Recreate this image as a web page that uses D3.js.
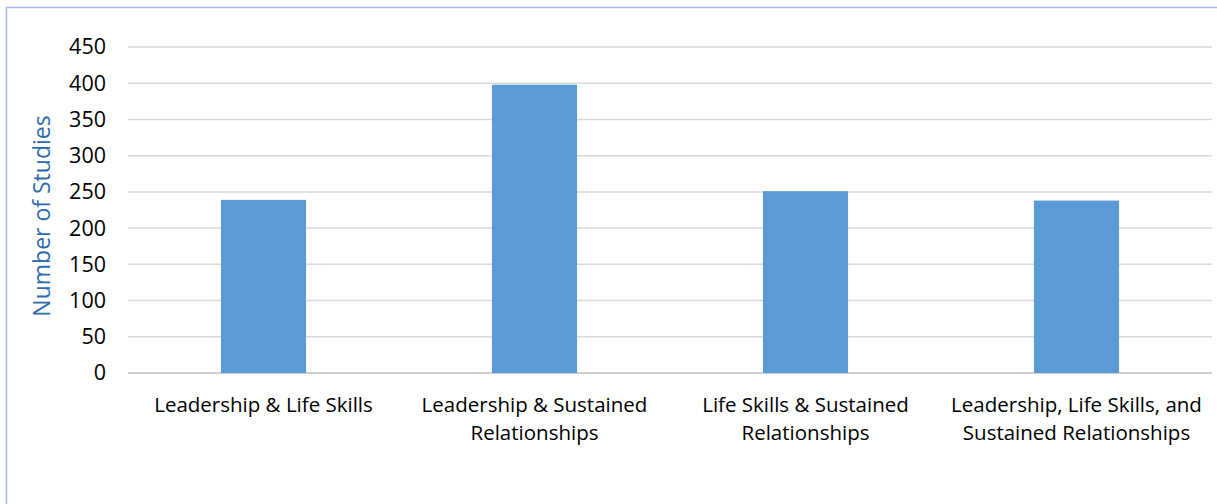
<!DOCTYPE html>
<html>
<head>
<meta charset="utf-8">
<script src="https://cdn.jsdelivr.net/npm/d3@7"></script>
<style>
  body { margin: 0; background: #fff; }
  svg { display: block; font-family: "Open Sans", sans-serif; }
</style>
</head>
<body>
<div id="chart"></div>
<script>
// data
let categories = [
  ["Leadership & Life Skills"],
  ["Leadership & Sustained", "Relationships"],
  ["Life Skills & Sustained", "Relationships"],
  ["Leadership, Life Skills, and", "Sustained Relationships"]
];
let studies = [239, 398, 251, 238];
let yTicks = [0, 50, 100, 150, 200, 250, 300, 350, 400, 450];

let svgWidth = 1217;
let svgHeight = 504;

let margin = { top: 47, right: 5, bottom: 131, left: 128 };
let width = svgWidth - margin.left - margin.right;
let height = svgHeight - margin.top - margin.bottom;

let svg = d3.select("#chart")
  .append("svg")
  .attr("width", svgWidth)
  .attr("height", svgHeight);

// outer frame of the chart object
svg.append("rect")
  .attr("x", 6.5)
  .attr("y", 7.5)
  .attr("width", 1300)
  .attr("height", 700)
  .attr("fill", "none")
  .attr("stroke", "#a7bde6")
  .attr("stroke-width", 1.5);

let chartGroup = svg.append("g")
  .attr("transform", `translate(${margin.left}, ${margin.top})`);

let idx = d3.range(categories.length);

let xScale = d3.scaleBand()
  .domain(idx)
  .range([0, width])
  .paddingInner(0.686)
  .paddingOuter(0.343);

let yScale = d3.scaleLinear()
  .domain([0, 450])
  .range([height, 0]);

// gridlines
chartGroup.selectAll(".grid")
  .data(yTicks)
  .enter()
  .append("line")
  .attr("x1", 0)
  .attr("x2", width)
  .attr("y1", d => yScale(d))
  .attr("y2", d => yScale(d))
  .attr("stroke", d => d === 0 ? "#d0d0d0" : "#d9d9d9")
  .attr("stroke-width", d => d === 0 ? 2 : 1.5);

// y axis labels
let leftAxis = d3.axisLeft(yScale).tickValues(yTicks).tickSize(0).tickPadding(22);
let yAxis = chartGroup.append("g").call(leftAxis);
yAxis.select(".domain").remove();
yAxis.selectAll("text")
  .attr("font-size", "21.5px")
  .attr("font-family", "'Open Sans', sans-serif")
  .attr("fill", "#000");

// bars
chartGroup.selectAll("rect.bar")
  .data(studies)
  .enter()
  .append("rect")
  .classed("bar", true)
  .attr("x", (d, i) => xScale(i))
  .attr("y", d => yScale(d))
  .attr("width", xScale.bandwidth())
  .attr("height", d => height - yScale(d))
  .attr("fill", "#5b9bd5");

// category labels (wrapped as in the picture)
let catText = chartGroup.selectAll("text.cat")
  .data(categories)
  .enter()
  .append("text")
  .classed("cat", true)
  .attr("text-anchor", "middle")
  .attr("font-size", "20.5px")
  .attr("fill", "#000");

catText.selectAll("tspan")
  .data((d, i) => d.map(line => ({ line: line, i: i })))
  .enter()
  .append("tspan")
  .attr("x", d => xScale(d.i) + xScale.bandwidth() / 2)
  .attr("y", (d, j) => height + 39 + j * 28)
  .text(d => d.line);

// y axis title
svg.append("text")
  .attr("transform", "rotate(-90)")
  .attr("x", -216)
  .attr("y", 50)
  .attr("text-anchor", "middle")
  .attr("font-size", "23px")
  .attr("fill", "#2e6cab")
  .text("Number of Studies");
</script>
</body>
</html>
